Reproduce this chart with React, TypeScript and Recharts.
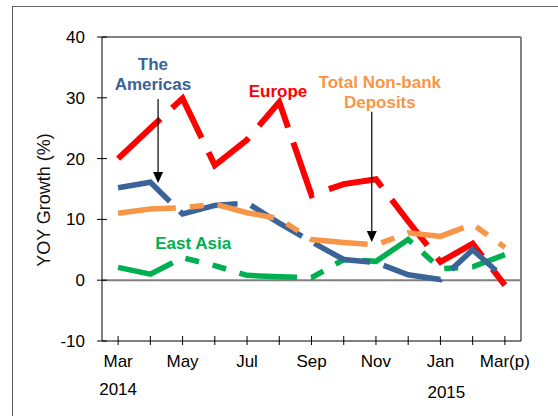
import { LineChart, Line, XAxis, YAxis, ReferenceLine, ReferenceDot, Label } from 'recharts';

const months = ['Mar', 'Apr', 'May', 'Jun', 'Jul', 'Aug', 'Sep', 'Oct', 'Nov', 'Dec', 'Jan', 'Feb', 'Mar(p)'];
const tickLabels = ['Mar', '', 'May', '', 'Jul', '', 'Sep', '', 'Nov', '', 'Jan', '', 'Mar(p)'];
const yearLabels = ['2014', '', '', '', '', '', '', '', '', '', '2015', '', ''];

const europe = [20, 25, 29.9, 18.9, 23.1, 29.3, 14, 15.8, 16.6, 9.7, 3, 6, -0.8];
const americas = [15.2, 16.1, 10.9, 12.3, 12.7, 9.4, 6.3, 3.4, 2.9, 0.9, 0.1, 5, 0.3];
const totalNonBank = [11, 11.7, 11.9, 12.5, 11.1, 10.1, 6.7, 6.2, 5.8, 7.8, 7.2, 9.2, 5.4];
const eastAsia = [2.1, 1.0, 3.7, 2.4, 0.8, 0.55, 0.4, 3.4, 3.1, 6.7, 1.9, 2.2, 4.2];

const yTicks = [-10, 0, 10, 20, 30, 40];

const data = months.map((m, i) => ({
  idx: i,
  month: m,
  europe: europe[i],
  americas: americas[i],
  total: totalNonBank[i],
  eastAsia: eastAsia[i],
}));

const FONT = '"Liberation Sans", Arial, sans-serif';
const BLUE = '#3A6398';
const RED = '#FF0000';
const ORANGE = '#F79646';
const GREEN = '#00B050';

function XTick(props: any) {
  const { x, y, payload } = props;
  const i = payload.value;
  return (
    <g>
      <line x1={x} x2={x} y1={y - 5} y2={y + 4} stroke='#000' />
      <text x={x} y={y + 26} textAnchor='middle' fontSize={17} fontFamily={FONT} fill='#000'>
        {tickLabels[i]}
      </text>
      {yearLabels[i] && (
        <text
          x={i === 0 ? x : x - 13}
          y={y + (i === 0 ? 54 : 57)}
          textAnchor={i === 0 ? 'middle' : 'start'}
          fontSize={17}
          fontFamily={FONT}
          fill='#000'>
          {yearLabels[i]}
        </text>
      )}
    </g>
  );
}

function YTick(props: any) {
  const { x, y, payload } = props;
  return (
    <g>
      <line x1={x - 5} x2={x + 5} y1={y} y2={y} stroke='#000' />
      <text x={x - 17} y={y + 6} textAnchor='end' fontSize={17} fontFamily={FONT} fill='#000'>
        {payload.value}
      </text>
    </g>
  );
}

function textShape(lines: string[], color: string) {
  return (p: any) => (
    <text
      x={p.cx}
      y={p.cy}
      textAnchor='middle'
      fontSize={17}
      fontWeight='bold'
      fontFamily={FONT}
      fill={color}>
      {lines.map((l, k) => (
        <tspan key={k} x={p.cx} dy={k === 0 ? 0 : 20}>
          {l}
        </tspan>
      ))}
    </text>
  );
}

function ArrowShape(p: any) {
  const { x1, y1, x2, y2 } = p;
  return (
    <g>
      <line x1={x1} y1={y1} x2={x2} y2={y2 - 10} stroke='#000' strokeWidth={1.2} />
      <polygon points={`${x2 - 5},${y2 - 11} ${x2 + 5},${y2 - 11} ${x2},${y2}`} fill='#000' />
    </g>
  );
}

export default function App() {
  return (
    <div style={{ position: 'absolute', left: 0, top: 0, width: 558, height: 416, overflow: 'hidden', background: '#fff' }}>
      <div
        style={{
          position: 'absolute',
          left: 12,
          top: 6,
          width: 560,
          height: 420,
          borderLeft: '1.5px solid #555',
          borderTop: '1.5px solid #666',
        }}
      />
      <div style={{ position: 'absolute', left: 0, top: 0 }}>
        <LineChart
          width={558}
          height={416}
          data={data}
          margin={{ top: 37, right: 37, left: 42, bottom: 15 }}>
          <XAxis
            dataKey='idx'
            type='number'
            domain={[-0.5, 12.5]}
            ticks={months.map((_, i) => i)}
            interval={0}
            tickLine={false}
            tickSize={0}
            tickMargin={0}
            axisLine={{ stroke: '#000' }}
            tick={<XTick />}
            height={60}
          />
          <YAxis
            type='number'
            domain={[-10, 40]}
            ticks={yTicks}
            interval={0}
            tickLine={false}
            tickSize={0}
            tickMargin={0}
            axisLine={{ stroke: '#000' }}
            tick={<YTick />}
            width={60}>
            <Label
              content={(lp: any) => {
                const vb = lp.viewBox || { x: 42, y: 37, width: 60, height: 304 };
                const cx = vb.x + 2;
                const cy = vb.y + vb.height / 2 + 11;
                return (
                  <text
                    x={cx}
                    y={cy}
                    transform={`rotate(-90 ${cx} ${cy})`}
                    textAnchor='middle'
                    dominantBaseline='central'
                    fontSize={18}
                    fontFamily={FONT}
                    fill='#111'>
                    YOY Growth (%)
                  </text>
                );
              }}
            />
          </YAxis>
          <ReferenceLine y={0} stroke='#808080' strokeWidth={2} />
          <ReferenceLine y={40} stroke='#000' strokeWidth={1} />
          <ReferenceLine x={12.5} stroke='#808080' strokeWidth={2} />
          <Line
            type='linear'
            dataKey='eastAsia'
            stroke={GREEN}
            strokeWidth={5.5}
            strokeDasharray='58 14 14 14 14 14'
            dot={false}
            activeDot={false}
            isAnimationActive={false}
          />
          <Line
            type='linear'
            dataKey='europe'
            stroke={RED}
            strokeWidth={6}
            strokeDasharray='58 16'
            dot={false}
            activeDot={false}
            isAnimationActive={false}
          />
          <Line
            type='linear'
            dataKey='americas'
            stroke={BLUE}
            strokeWidth={5.5}
            strokeDasharray='60 14'
            dot={false}
            activeDot={false}
            isAnimationActive={false}
          />
          <Line
            type='linear'
            dataKey='total'
            stroke={ORANGE}
            strokeWidth={5.5}
            strokeDasharray='58 14 14 14'
            dot={false}
            activeDot={false}
            isAnimationActive={false}
          />
          <ReferenceLine
            segment={[
              { x: 1.24, y: 29.8 },
              { x: 1.24, y: 16.0 },
            ]}
            shape={ArrowShape}
          />
          <ReferenceLine
            segment={[
              { x: 7.87, y: 27.7 },
              { x: 7.87, y: 6.3 },
            ]}
            shape={ArrowShape}
          />
          <ReferenceDot x={1.08} y={34.6} r={0} shape={textShape(['The', 'Americas'], BLUE)} />
          <ReferenceDot x={4.96} y={30.1} r={0} shape={textShape(['Europe'], RED)} />
          <ReferenceDot x={8.12} y={31.6} r={0} shape={textShape(['Total Non-bank', 'Deposits'], ORANGE)} />
          <ReferenceDot x={2.33} y={5.1} r={0} shape={textShape(['East Asia'], GREEN)} />
        </LineChart>
      </div>
    </div>
  );
}
